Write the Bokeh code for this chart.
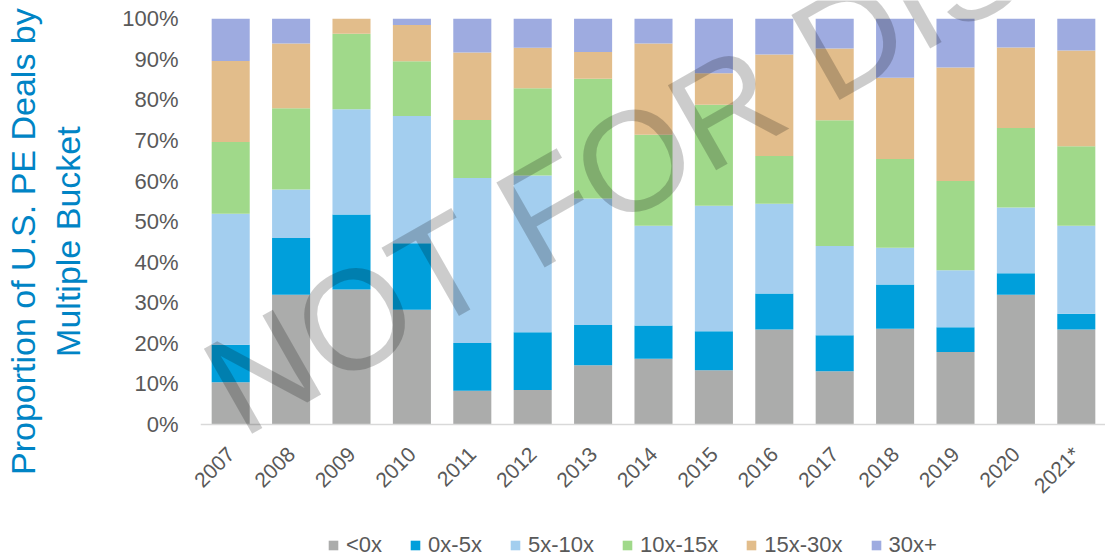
import numpy as np
from bokeh.plotting import figure
from bokeh.layouts import column
from bokeh.models import (ColumnDataSource, FactorRange, Range1d, FixedTicker, NumeralTickFormatter,
                          Label, Legend, LegendItem, Span)
from bokeh.embed import file_html
from bokeh.resources import INLINE
from math import pi

# ---- data (percent of deals) ----
years = ["2007", "2008", "2009", "2010", "2011", "2012", "2013", "2014",
         "2015", "2016", "2017", "2018", "2019", "2020", "2021*"]
buckets = ["<0x", "0x-5x", "5x-10x", "10x-15x", "15x-30x", "30x+"]
lt0 = [10.4, 32.0, 33.3, 28.3, 8.3, 8.5, 14.6, 16.2, 13.4, 23.4, 13.1, 23.6, 17.9, 32.0, 23.4]
b0_5 = [9.3, 14.0, 18.5, 16.4, 11.8, 14.2, 9.9, 8.2, 9.6, 8.9, 8.9, 10.9, 6.1, 5.3, 3.9]
b5_10 = [32.3, 12.0, 26.0, 31.4, 40.7, 38.6, 31.2, 24.6, 30.9, 22.1, 22.0, 9.0, 14.0, 16.2, 21.7]
b10_15 = [17.7, 20.0, 18.6, 13.5, 14.3, 21.5, 29.5, 22.4, 24.9, 11.8, 31.0, 21.9, 22.0, 19.6, 19.6]
b15_30 = [20.0, 16.0, 3.7, 9.0, 16.7, 10.0, 6.6, 22.5, 7.8, 25.0, 17.7, 20.0, 28.0, 19.8, 23.6]
b30p = [10.4, 6.1, 0.0, 1.5, 8.3, 7.1, 8.2, 6.1, 13.4, 8.8, 7.3, 14.5, 12.0, 7.1, 7.8]
yticks = [0.0, 0.1, 0.2, 0.3, 0.4, 0.5, 0.6, 0.7, 0.8, 0.9, 1.0]
colors = ["#ABACAB", "#009FDB", "#A3CEEF", "#A0D98A", "#E2BD8B", "#9EABE0"]
ytitle = ["Proportion of U.S. PE Deals by", "Multiple Bucket"]
watermark = "NOT FOR DISTRIBUTION"

series = [lt0, b0_5, b5_10, b10_15, b15_30, b30p]
arr = np.array(series, dtype=float)
arr = arr / arr.sum(axis=0)  # 100% stacked proportions

data = {"year": years}
for name, vals in zip(buckets, arr):
    data[name] = list(vals)
source = ColumnDataSource(data)

xr = FactorRange(factors=years, range_padding=0)

# ---------------- main chart ----------------
p = figure(x_range=xr, y_range=Range1d(-0.0271, 1.0451),
           frame_width=906, frame_height=435,
           output_backend="svg", toolbar_location=None,
           min_border_left=199, min_border_right=0, min_border_top=0, min_border_bottom=80)
p.outline_line_color = None
p.background_fill_color = "white"
p.border_fill_color = "white"

p.vbar_stack(buckets, x="year", width=0.63, color=colors, source=source, line_color=None)

# baseline (category axis line) at 0%
p.add_layout(Span(location=0, dimension="width", line_color="#D9D9D9", line_width=1.5))

p.xgrid.grid_line_color = None
p.ygrid.grid_line_color = None
p.yaxis.ticker = FixedTicker(ticks=yticks)
p.yaxis.formatter = NumeralTickFormatter(format="0%")
p.yaxis.axis_line_color = None
p.yaxis.major_tick_line_color = None
p.yaxis.minor_tick_line_color = None
p.yaxis.major_tick_out = 0
p.yaxis.major_tick_in = 0
p.yaxis.minor_tick_out = 0
p.yaxis.major_label_standoff = 22
p.yaxis.major_label_text_font = "Liberation Sans"
p.yaxis.major_label_text_font_size = "22px"
p.yaxis.major_label_text_color = "#595959"
nb = "\u00a0" * 5
p.yaxis.axis_label = ytitle[0] + nb + "\n" + ytitle[1] + nb
p.yaxis.axis_label_text_font = "Liberation Sans"
p.yaxis.axis_label_text_font_size = "34px"
p.yaxis.axis_label_text_font_style = "normal"
p.yaxis.axis_label_text_color = "#0084C5"
p.yaxis.axis_label_standoff = 32
p.yaxis.axis_label_text_line_height = 1.2

p.xaxis.axis_line_color = None
p.xaxis.major_tick_line_color = None
p.xaxis.minor_tick_line_color = None
p.xaxis.major_tick_out = 0
p.xaxis.major_tick_in = 0
p.xaxis.major_label_orientation = pi / 4
p.xaxis.major_label_standoff = 15
p.xaxis.major_label_text_font = "Liberation Sans"
p.xaxis.major_label_text_font_size = "21px"
p.xaxis.major_label_text_color = "#595959"

# watermark
p.add_layout(Label(x=0.281, y=0.069, text=watermark, angle=29.6,
                   angle_units="deg", text_align="left", text_baseline="alphabetic",
                   text_font="Liberation Sans", text_font_size="142px",
                   text_color="black", text_alpha=0.2))

# ---------------- legend strip ----------------
pl = figure(x_range=xr, y_range=Range1d(2, 3), width=1105, height=43,
            output_backend="svg", toolbar_location=None,
            x_axis_location=None, y_axis_location=None,
            min_border_left=0, min_border_right=0, min_border_top=0, min_border_bottom=0)
pl.outline_line_color = None
pl.grid.visible = False
leg_renderers = pl.vbar_stack(buckets, x="year", width=0.63, color=colors, source=source,
                              line_color=None)
items = [LegendItem(label=b, renderers=[r]) for b, r in zip(buckets, leg_renderers)]
legend = Legend(items=items, orientation="horizontal", location=(127, 0),
                border_line_color=None, background_fill_alpha=0,
                padding=0, margin=0, spacing=27, label_standoff=7,
                glyph_width=12, glyph_height=12, label_height=22,
                label_text_font="Liberation Sans", label_text_font_size="22px",
                label_text_color="#595959")
pl.add_layout(legend, "center")

open("out.html", "w").write(file_html(column(p, pl, spacing=0), INLINE))
